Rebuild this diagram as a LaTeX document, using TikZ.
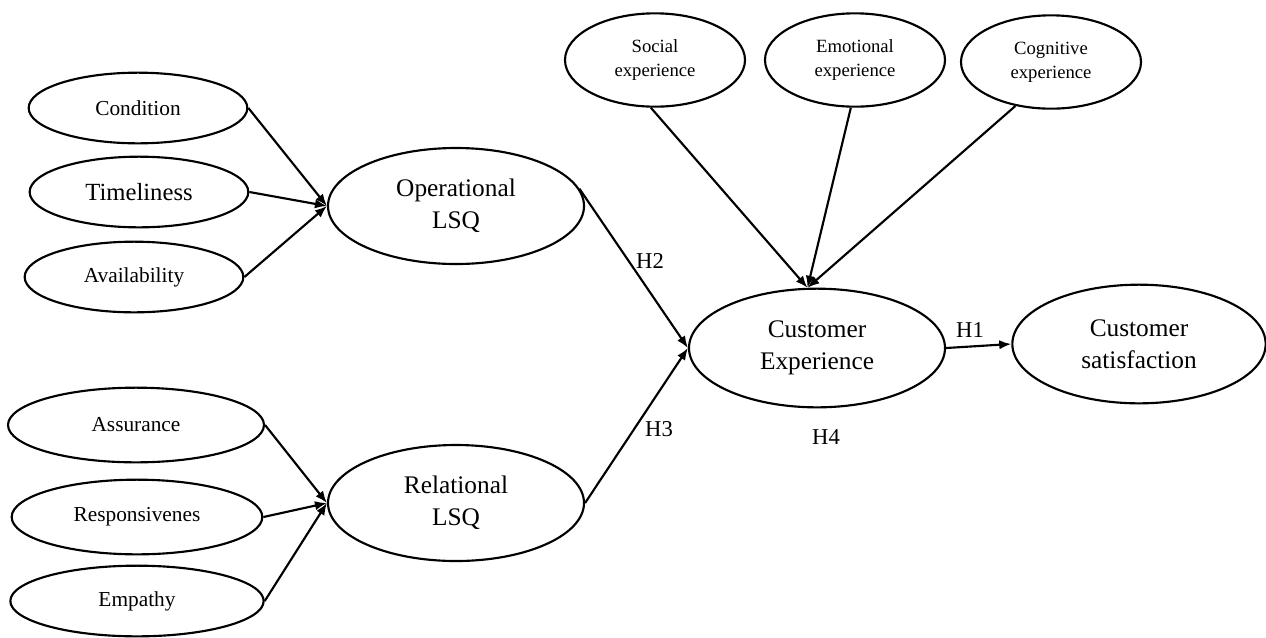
\documentclass[tikz,border=0pt]{standalone}
\usepackage{fontspec}
\setmainfont{Liberation Serif}
\usetikzlibrary{shapes.geometric,arrows.meta}

\begin{document}
\begin{tikzpicture}[x=0.75pt, y=-0.75pt, >={Latex[length=9pt,width=7pt]},
  every path/.style={line width=1.6pt},
  dim/.style={ellipse, draw=black, inner sep=0pt, align=center,
    minimum width=164pt, minimum height=53pt, font=\fontsize{16}{19}\selectfont},
  latent/.style={ellipse, draw=black, inner sep=0pt, align=center,
    minimum width=192pt, minimum height=87pt, font=\fontsize{19}{24}\selectfont},
  facet/.style={ellipse, draw=black, inner sep=0pt, align=center,
    minimum width=135pt, minimum height=70pt, font=\fontsize{14}{18}\selectfont},
  hyp/.style={font=\fontsize{17}{20}\selectfont}]
\useasboundingbox (0,0) rectangle (1266,637);

\node[dim] (cond) at (138,108) {Condition};
\node[dim, font=\fontsize{18.5}{22}\selectfont] (time) at (139,192) {Timeliness};
\node[dim] (avail) at (134,277) {Availability};

\node[dim, minimum width=192pt, minimum height=56pt] (assur) at (136,425) {Assurance};
\node[dim, minimum width=188pt, minimum height=56pt] (resp) at (137,517) {Responsivenes};
\node[dim, minimum width=190pt, minimum height=53pt] (emp) at (137,601) {Empathy};

\node[latent] (op) at (456,206) {Operational\\LSQ};
\node[latent] (rel) at (456,503) {Relational\\LSQ};

\node[facet] (soc) at (655,60) {Social\\experience};
\node[facet] (emo) at (855,60) {Emotional\\experience};
\node[facet] (cog) at (1051,62) {Cognitive\\experience};

\node[latent, minimum height=89pt] (ce) at (817,348) {Customer\\Experience};
\node[latent, minimum width=190pt, minimum height=89pt] (cs) at (1139,344) {Customer\\satisfaction};

\draw[->] (cond.east) -- (op.west);
\draw[->] (time.east) -- (op.west);
\draw[->] (avail.east) -- (op.west);

\draw[->] (assur.east) -- (rel.west);
\draw[->] (resp.east) -- (rel.west);
\draw[->] (emp.east) -- (rel.west);

\draw[->] (op.8) -- (ce.west);
\draw[->] (rel.east) -- (ce.west);

\draw[->] (soc.265) -- (ce.99);
\draw[->] (emo.265) -- (ce.99);
\draw[->] (cog.231) -- (ce.99);

\draw[->] (ce.east) -- (cs.west);

\node[hyp] (h1) at (970,330) {H1};
\node[hyp] (h2) at (650,261) {H2};
\node[hyp] (h3) at (659,429) {H3};
\node[hyp] (h4) at (826,437) {H4};
\end{tikzpicture}
\end{document}
